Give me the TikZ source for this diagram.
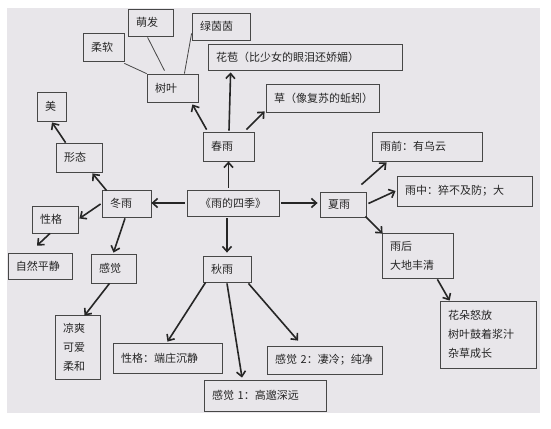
\documentclass[tikz,border=0pt]{standalone}
\usepackage{fontspec}
\setmainfont{Noto Sans CJK SC}
\usetikzlibrary{arrows.meta,calc}
\definecolor{bg}{HTML}{E8E6EA}
\definecolor{ink}{HTML}{262626}
\begin{document}
\begin{tikzpicture}[x=1pt,y=-1pt,
  box/.style={draw=ink!85, line width=0.8pt, inner xsep=8pt, inner ysep=0pt,
    align=left, text=ink, font=\fontsize{11}{19}\selectfont},
  arr/.style={draw=ink, line width=1.6pt, -{Straight Barb[length=5pt,width=9pt]}},
  thin/.style={draw=ink!85, line width=0.8pt}]
\useasboundingbox (0,0) rectangle (551,428);
\fill[white] (0,0) rectangle (551,428);
\fill[bg] (7,8) rectangle (540,413);

\node[box,text width=76pt,minimum height=26pt,align=center] (c) at (233,203) {《雨的四季》};
\node[box,text width=35pt,minimum height=29pt] (cr) at (228.5,146.5) {春雨};
\node[box,text width=35pt,minimum height=28pt] (sy) at (172.5,88) {树叶};
\node[box,text width=25pt,minimum height=28pt] (rr) at (103.5,47) {柔软};
\node[box,text width=29pt,minimum height=27pt] (mf) at (150.5,22.5) {萌发};
\node[box,text width=42pt,minimum height=27pt] (lyy) at (221,26.5) {绿茵茵};
\node[box,text width=178pt,minimum height=26pt] (hb) at (305,57) {花苞（比少女的眼泪还娇媚）};
\node[box,text width=97pt,minimum height=28pt] (cao) at (322.5,98) {草（像复苏的蚯蚓）};
\node[box,text width=13pt,minimum height=29pt] (mei) at (51.5,106.5) {美};
\node[box,text width=30pt,minimum height=29pt] (xt) at (79,157.5) {形态};
\node[box,text width=33pt,minimum height=27pt] (dr) at (126.5,203.5) {冬雨};
\node[box,text width=30pt,minimum height=27pt] (xg) at (55,219.5) {性格};
\node[box,text width=48pt,minimum height=26pt] (zr) at (40,266) {自然平静};
\node[box,text width=29pt,minimum height=29pt] (gj) at (113.5,268.5) {感觉};
\node[box,text width=29pt,minimum height=64pt] (lsh) at (77.5,347) {凉爽\\可爱\\柔和};
\node[box,text width=30pt,minimum height=25pt] (xr) at (343,204.5) {夏雨};
\node[box,text width=94pt,minimum height=29pt] (yq) at (427,146.5) {雨前：有乌云};
\node[box,text width=119pt,minimum height=30pt] (yz) at (464.5,191) {雨中：猝不及防；大};
\node[box,text width=55pt,minimum height=45pt] (yh) at (417.5,255.5) {雨后\\大地丰清};
\node[box,text width=80pt,minimum height=67pt] (hd) at (488,334.5) {花朵怒放\\树叶鼓着浆汁\\杂草成长};
\node[box,text width=32pt,minimum height=26pt] (qr) at (227,269) {秋雨};
\node[box,text width=93pt,minimum height=30pt] (xgdz) at (167.5,358) {性格：端庄沉静};
\node[box,text width=106pt,minimum height=31pt] (gj1) at (265,395.5) {感觉 1：高邈深远};
\node[box,text width=99pt,minimum height=28pt] (gj2) at (324.5,360) {感觉 2：凄冷；纯净};

% main branches
\draw[arr,shorten <=2pt] (c.north -| cr) -- (cr.south);
\draw[arr,shorten <=2pt,shorten >=3pt] (c.south -| qr) -- (qr.north);
\draw[arr,shorten <=2pt,shorten >=2pt] (c.east) -- (c.east -| xr.west);
\draw[arr,shorten <=2pt] (c.west) -- (c.west -| dr.east);

% spring
\draw[arr] ($(cr.north west)+(4,-2)$) -- ($(sy.south east)+(-6,2)$);
\draw[arr] ($(cr.north)+(0.5,-1)$) -- ($(hb.south west)+(23,2)$);
\draw[arr] ($(cr.north east)+(-8,-2)$) -- ($(cao.south west)+(-1,-1)$);
\draw[thin] ($(rr.south east)+(0,2)$) -- (sy.north west);
\draw[thin] ($(mf.south west)+(20,1)$) -- ($(sy.north)+(-8,-3)$);
\draw[thin] ($(lyy.south west)+(0,-7)$) -- ($(sy.north east)+(-14,0)$);

% winter
\draw[arr] ($(dr.north west)+(5,1)$) -- ($(xt.south east)+(-10,1)$);
\draw[arr] ($(xt.north west)+(10,0)$) -- ($(mei.south)+(0.5,1)$);
\draw[arr] ($(dr.west)+(-1,0.5)$) -- ($(xg.east)+(1,-1)$);
\draw[arr] ($(xg.south)+(-5,0)$) -- ($(zr.north)+(-3,-7)$);
\draw[arr] ($(dr.south)+(-1.5,1)$) -- ($(gj.north)+(0,-1)$);
\draw[arr] ($(gj.south)+(-4,0)$) -- ($(lsh.north)+(7,1)$);

% summer
\draw[arr] ($(xr.north east)+(-5,-7)$) -- ($(yq.south west)+(15,1)$);
\draw[arr] ($(xr.east)+(2,-1)$) -- ($(yz.west)+(-1,0)$);
\draw[arr] ($(xr.south east)+(-1,-1)$) -- ($(yh.north west)+(1,1)$);
\draw[arr] ($(yh.south east)+(-16,1)$) -- ($(hd.north west)+(10,0)$);

% autumn
\draw[arr] ($(qr.south west)+(3,0)$) -- ($(xgdz.north)+(0,-1)$);
\draw[arr] ($(qr.south)+(0,1)$) -- ($(gj1.north)+(-23,-2)$);
\draw[arr] ($(qr.south east)+(-3,1)$) -- ($(gj2.north)+(-26.5,-5)$);
\end{tikzpicture}
\end{document}
